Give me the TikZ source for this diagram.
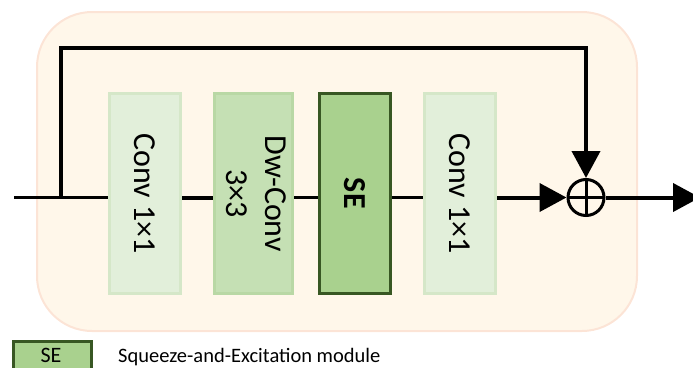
\documentclass[tikz,border=0pt]{standalone}
\usepackage{fontspec}
\setmainfont{Carlito}
\usetikzlibrary{arrows.meta}
\definecolor{bgfill}{HTML}{FFF7EA}
\definecolor{bgline}{HTML}{FCE4D6}
\definecolor{convfill}{HTML}{E2EFDA}
\definecolor{convline}{HTML}{D5E7C8}
\definecolor{dwfill}{HTML}{C5E0B4}
\definecolor{dwline}{HTML}{B9D8A5}
\definecolor{sefill}{HTML}{A9D18E}
\definecolor{seline}{HTML}{385723}
\begin{document}
\begin{tikzpicture}[x=1pt,y=-1pt,
  blk/.style={minimum width=71pt,minimum height=200pt,inner sep=0pt,anchor=north west,
    font=\fontsize{32}{39}\selectfont},
  convblk/.style={blk,fill=convfill,draw=convline,line width=3pt},
  dwblk/.style={blk,fill=dwfill,draw=dwline,line width=3pt},
  seblk/.style={blk,fill=sefill,draw=seline,line width=2.5pt},
  tri/.style={-{Triangle[length=27pt,width=28pt]}},
  wthin/.style={line width=2.6pt},
  wthick/.style={line width=4pt}]
\useasboundingbox (0,0) rectangle (693,367);
\clip (0,0) rectangle (693,367);
% background
\node[draw=bgline,fill=bgfill,line width=2pt,rounded corners=55pt,minimum width=600pt,
  minimum height=319pt,anchor=north west,inner sep=0pt] (bg) at (36,11) {};
% blocks
\node[convblk] (c1) at (108,92) {\rotatebox{-90}{Conv 1×1}};
\node[dwblk] (dw) at (213,92) {\rotatebox{-90}{\begin{tabular}{@{}c@{}}Dw-Conv\\3×3\end{tabular}}};
\node[seblk] (se) at (318,92) {\rotatebox{-90}{\textbf{SE}}};
\node[convblk] (c2) at (423,92) {\rotatebox{-90}{Conv 1×1}};
% adder
\node[circle,draw,line width=3pt,minimum size=36pt,inner sep=0pt,
  path picture={\draw[line width=3pt] (path picture bounding box.north) -- (path picture bounding box.south)
     (path picture bounding box.west) -- (path picture bounding box.east);}] (add) at (586,197.5) {};
% coordinates
\coordinate (in) at (14,197.5);
\coordinate (split) at (61,197.5);
\coordinate (top) at (61,48);
\coordinate (out) at (700,197.5);
% connectors
\draw[wthin] (in) -- (in -| c1.west);
\draw[wthick] (c1.east |- in) -- (dw.west |- in);
\draw[wthin] (dw.east |- in) -- (se.west |- in);
\draw[wthin] (se.east |- in) -- (c2.west |- in);
\draw[wthick,tri] (c2.east |- in) -- (add.west);
\draw[wthick,tri] (split) -- (top) -| (add.north);
\draw[wthick,tri] (add.east) -- (out);
% legend
\node[fill=sefill,draw=seline,line width=2.5pt,minimum width=78pt,minimum height=34pt,
  anchor=north west,inner sep=0pt] (leg) at (12,340) {};
\node[anchor=base,inner sep=0pt,font=\fontsize{22}{26}\selectfont] (legse) at (51,362) {SE};
\node[anchor=base west,inner sep=0pt,font=\fontsize{20.5}{24}\selectfont] (legtxt) at (118,362.5) {Squeeze-and-Excitation module};
\end{tikzpicture}
\end{document}
